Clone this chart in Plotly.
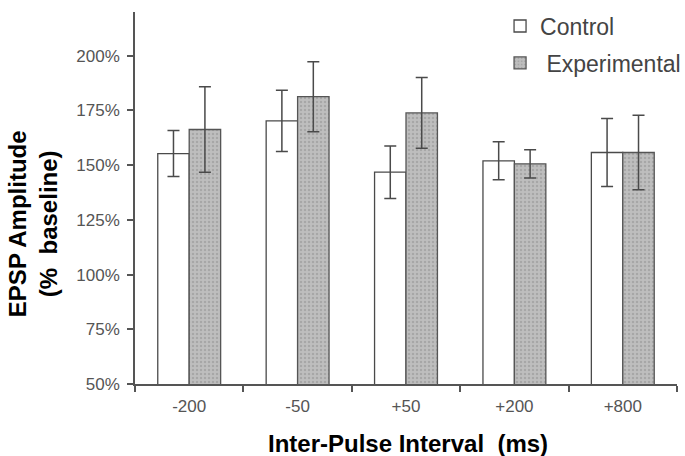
import plotly.graph_objects as go

categories = ["-200", "-50", "+50", "+200", "+800"]
control = [155.3, 170.2, 146.8, 152.0, 155.8]
control_err = [10.5, 14.0, 12.0, 8.7, 15.5]
experimental = [166.3, 181.3, 173.9, 150.6, 155.8]
experimental_err = [19.5, 16.0, 16.2, 6.5, 17.0]
y_tickvals = [50, 75, 100, 125, 150, 175, 200]
y_ticktext = ["50%", "75%", "100%", "125%", "150%", "175%", "200%"]

axis_col = "#555555"
font_fam = "Liberation Sans, Arial, sans-serif"

fig = go.Figure()
fig.add_trace(go.Bar(
    x=categories, y=control, name="Control", legendgroup="c",
    marker=dict(color="white", line=dict(color="#4a4a4a", width=1.3)),
    error_y=dict(type="data", array=control_err, color="#4a4a4a", thickness=1.5, width=6),
))
fig.add_trace(go.Bar(
    x=categories, y=experimental, name=" Experimental", legendgroup="e",
    marker=dict(color="#b9b9b9", line=dict(color="#555555", width=1.3),
                pattern=dict(shape=".", fgcolor="#909090", bgcolor="#bebebe", size=4, solidity=0.3)),
    error_y=dict(type="data", array=experimental_err, color="#4a4a4a", thickness=1.5, width=6),
))

fig.update_layout(
    width=685, height=456,
    margin=dict(l=135, r=8, t=12, b=72, autoexpand=False),
    paper_bgcolor="white", plot_bgcolor="white",
    barmode="group", bargap=0.42, bargroupgap=0,
    font=dict(family=font_fam, color="#555555", size=16),
    showlegend=True,
    legend=dict(xref="container", yref="container", x=0.73, y=0.99, xanchor="left", yanchor="top",
                font=dict(size=23, color="#444444"), tracegroupgap=4,
                bgcolor="rgba(0,0,0,0)"),
    xaxis=dict(
        showline=True, linecolor=axis_col, linewidth=1.5,
        ticks="outside", tickson="boundaries", ticklen=6, tickcolor=axis_col, tickwidth=1.5,
        ticklabelstandoff=6,
        tickfont=dict(size=17, color="#555555"), showgrid=False, zeroline=False,
    ),
    yaxis=dict(
        range=[50, 220], tickvals=y_tickvals, ticktext=y_ticktext,
        showline=True, linecolor=axis_col, linewidth=1.5,
        ticks="outside", ticklen=6, tickcolor=axis_col, tickwidth=1.5,
        ticklabelstandoff=4,
        tickfont=dict(size=17, color="#555555"), showgrid=False, zeroline=False,
    ),
    annotations=[
        dict(text="<b>EPSP Amplitude<br>(%  baseline)</b>", xref="paper", yref="paper",
             x=-0.188, y=0.43, xanchor="center", yanchor="middle", textangle=-90, showarrow=False,
             font=dict(size=24, color="black", family=font_fam), align="center"),
        dict(text="<b>Inter-Pulse Interval\u00a0\u00a0(ms)</b>", xref="paper", yref="paper",
             x=0.504, y=-0.159, xanchor="center", yanchor="middle", showarrow=False,
             font=dict(size=24, color="black", family=font_fam)),
    ],
)

fig.write_html("out.html")
